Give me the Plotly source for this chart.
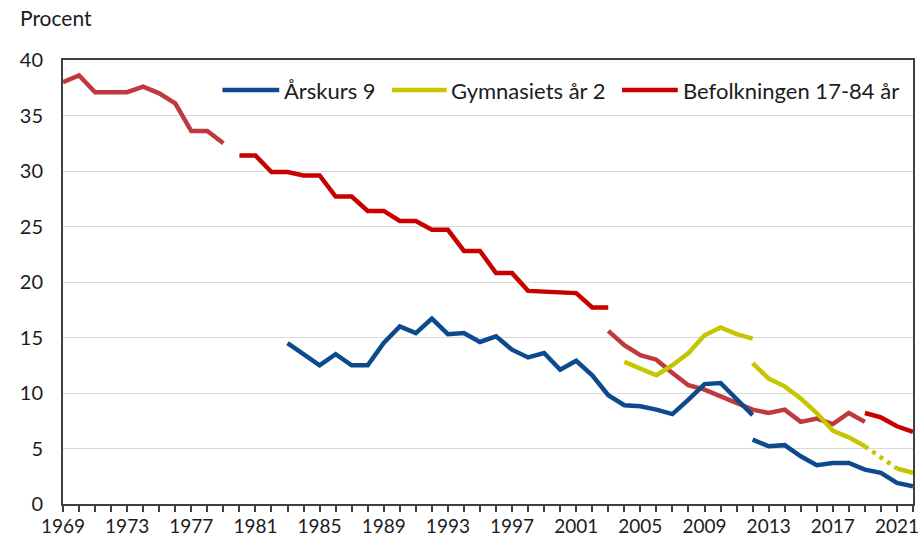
import plotly.graph_objects as go

# ---- Data (percent) ----
years_bef_1 = list(range(1969, 1980))
bef_1 = [38.0, 38.6, 37.1, 37.1, 37.1, 37.6, 37.0, 36.1, 33.6, 33.6, 32.5]
years_bef_2 = list(range(1980, 2004))
bef_2 = [31.4, 31.4, 29.9, 29.9, 29.6, 29.6, 27.7, 27.7, 26.4, 26.4, 25.5, 25.5,
         24.7, 24.7, 22.8, 22.8, 20.8, 20.8, 19.2, 19.1, 19.0, 19.0, 17.7, 17.7]
years_bef_3 = list(range(2003, 2020))
bef_3 = [15.6, 14.3, 13.4, 13.0, 11.8, 10.7, 10.3, 9.7, 9.1, 8.5, 8.2, 8.5,
         7.4, 7.7, 7.2, 8.2, 7.4]
years_bef_4 = list(range(2019, 2023))
bef_4 = [8.2, 7.8, 7.0, 6.5]

years_gym_1 = list(range(2004, 2013))
gym_1 = [12.8, 12.2, 11.6, 12.5, 13.6, 15.2, 15.9, 15.3, 14.9]
years_gym_2 = list(range(2012, 2020))
gym_2 = [12.7, 11.3, 10.6, 9.5, 8.2, 6.6, 6.0, 5.2]
years_gym_gap = [2019, 2021]
gym_gap = [5.2, 3.2]
years_gym_3 = [2021, 2022]
gym_3 = [3.2, 2.8]

years_ak9_1 = list(range(1983, 2013))
ak9_1 = [14.5, 13.5, 12.5, 13.5, 12.5, 12.5, 14.5, 16.0, 15.4, 16.7, 15.3, 15.4,
         14.6, 15.1, 13.9, 13.2, 13.6, 12.1, 12.9, 11.6, 9.8, 8.9, 8.8, 8.5,
         8.1, 9.4, 10.8, 10.9, 9.5, 8.0]
years_ak9_2 = list(range(2012, 2023))
ak9_2 = [5.8, 5.2, 5.3, 4.3, 3.5, 3.7, 3.7, 3.1, 2.8, 1.9, 1.6]

series_names = ["Årskurs 9", "Gymnasiets år 2", "Befolkningen 17-84 år"]
x_tick_labels = [str(y) for y in range(1969, 2022, 4)]
y_ticks = list(range(0, 41, 5))

# ---- Styles ----
BLUE = "#0d4a8c"
YELLOW = "#c6c600"
RED = "#c80000"
RED_DARK = "#c0393f"
LW = 4.5
FONT = "Lato"
TXT = "#1c1c1c"

fig = go.Figure()

def add(x, y, color, dash="solid"):
    fig.add_trace(go.Scatter(x=x, y=y, mode="lines", showlegend=False,
                             line=dict(color=color, width=LW, dash=dash),
                             hoverinfo="x+y"))

add(years_bef_1, bef_1, RED_DARK)
add(years_bef_2, bef_2, RED)
add(years_bef_3, bef_3, RED_DARK)
add(years_bef_4, bef_4, RED)
add(years_gym_1, gym_1, YELLOW)
add(years_gym_2, gym_2, YELLOW)
add(years_gym_gap, gym_gap, YELLOW, dash="4px,5px")
add(years_gym_3, gym_3, YELLOW)
add(years_ak9_1, ak9_1, BLUE)
add(years_ak9_2, ak9_2, BLUE)

# ---- Manual legend (paper coordinates) ----
legend_items = [
    (series_names[0], BLUE, 0.1876, 0.2544, 0.2575),
    (series_names[1], YELLOW, 0.3869, 0.4513, 0.4545),
    (series_names[2], RED, 0.6577, 0.7233, 0.7265),
]
ly = 0.9324
for name, color, x0, x1, xt in legend_items:
    fig.add_shape(type="line", xref="paper", yref="paper", x0=x0, x1=x1,
                  y0=ly, y1=ly, line=dict(color=color, width=LW))
    fig.add_annotation(xref="paper", yref="paper", x=xt, y=ly, text=name,
                       showarrow=False, xanchor="left", yanchor="middle",
                       font=dict(family=FONT, size=22, color=TXT))

fig.add_annotation(xref="paper", yref="paper", x=-0.053, y=1.0946,
                   text="Procent", showarrow=False, xanchor="left",
                   yanchor="middle", font=dict(family=FONT, size=21, color=TXT))

fig.update_layout(
    width=919, height=537,
    margin=dict(l=63, r=6, t=60, b=33),
    paper_bgcolor="white", plot_bgcolor="white",
    font=dict(family=FONT, size=20, color=TXT),
    showlegend=False,
)
fig.update_xaxes(
    range=[1969, 2022], automargin=False,
    tickmode="array", tickvals=[int(t) for t in x_tick_labels], ticktext=x_tick_labels,
    ticks="outside", ticklen=6, tickwidth=1.5, tickcolor="#404040",
    minor=dict(dtick=1, tick0=1969, ticks="outside", ticklen=6, tickwidth=1.5,
               tickcolor="#404040", showgrid=False),
    showgrid=False, zeroline=False, ticklabeloverflow="allow",
    ticklabelstandoff=-2,
    showline=True, linecolor="#404040", linewidth=2, mirror=True,
    tickfont=dict(family=FONT, size=19, color=TXT),
)
fig.update_yaxes(
    range=[0, 40], automargin=False, tickmode="array", tickvals=y_ticks,
    ticks="outside", ticklen=14, tickcolor="rgba(0,0,0,0)",
    showgrid=True, gridcolor="#d9d9d9", gridwidth=1.2, zeroline=False,
    showline=True, linecolor="#404040", linewidth=2, mirror=True,
    tickfont=dict(family=FONT, size=20, color=TXT),
)

# Remove the default page margin so the 919x537 figure fills the window exactly.
fig.write_html(
    "out.html",
    config={"displayModeBar": False},
    post_script="document.body.style.margin='0';"
                "document.documentElement.style.overflow='hidden';",
)
